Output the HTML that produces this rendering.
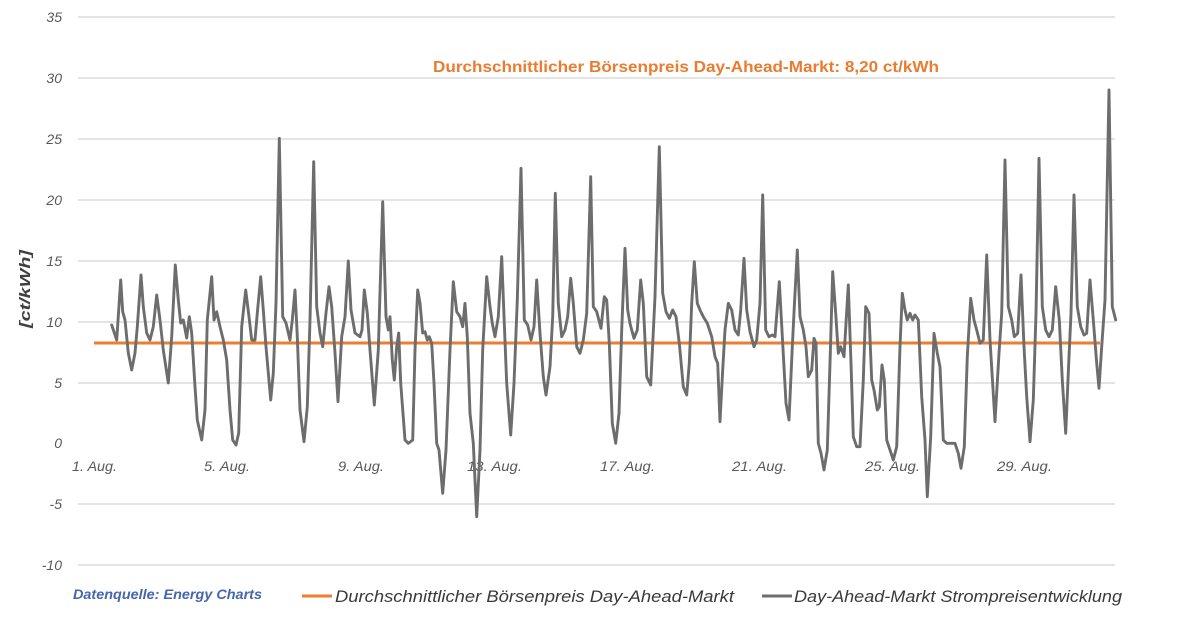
<!DOCTYPE html>
<html>
<head>
<meta charset="utf-8">
<style>
  html, body { margin: 0; padding: 0; background: #ffffff; }
  svg { display: block; }
  text { font-family: "Liberation Sans", "DejaVu Sans", sans-serif; }
</style>
</head>
<body>
<svg width="1200" height="619" viewBox="0 0 1200 619" xmlns="http://www.w3.org/2000/svg">
  <rect x="0" y="0" width="1200" height="619" fill="#ffffff"/>

  <!-- gridlines -->
  <g stroke="#e4e4e4" stroke-width="2">
    <line x1="78" y1="17" x2="1115" y2="17"/>
    <line x1="78" y1="78" x2="1115" y2="78"/>
    <line x1="78" y1="139" x2="1115" y2="139"/>
    <line x1="78" y1="200" x2="1115" y2="200"/>
    <line x1="78" y1="261" x2="1115" y2="261"/>
    <line x1="78" y1="322" x2="1115" y2="322"/>
    <line x1="78" y1="383" x2="1115" y2="383"/>
    <line x1="78" y1="504" x2="1115" y2="504"/>
    <line x1="78" y1="565" x2="1115" y2="565"/>
  </g>

  <!-- y tick labels -->
  <g font-size="14" font-style="italic" fill="#595959" text-anchor="end">
    <text x="62" y="22">35</text>
    <text x="62" y="83">30</text>
    <text x="62" y="144">25</text>
    <text x="62" y="205">20</text>
    <text x="62" y="266">15</text>
    <text x="62" y="327">10</text>
    <text x="62" y="388">5</text>
    <text x="62" y="448">0</text>
    <text x="62" y="509">-5</text>
    <text x="62" y="570">-10</text>
  </g>

  <!-- y axis title -->
  <text transform="translate(30,289) rotate(-90)" text-anchor="middle" font-size="15" font-style="italic" font-weight="bold" fill="#404040" textLength="78" lengthAdjust="spacingAndGlyphs">[ct/kWh]</text>

  <!-- x labels -->
  <g font-size="13.5" font-style="italic" fill="#595959">
    <text x="72" y="471" textLength="45" lengthAdjust="spacingAndGlyphs">1. Aug.</text>
    <text x="204" y="471" textLength="46" lengthAdjust="spacingAndGlyphs">5. Aug.</text>
    <text x="338" y="471" textLength="46" lengthAdjust="spacingAndGlyphs">9. Aug.</text>
    <text x="467" y="471" textLength="55" lengthAdjust="spacingAndGlyphs">13. Aug.</text>
    <text x="600" y="471" textLength="55" lengthAdjust="spacingAndGlyphs">17. Aug.</text>
    <text x="732" y="471" textLength="55" lengthAdjust="spacingAndGlyphs">21. Aug.</text>
    <text x="865" y="471" textLength="55" lengthAdjust="spacingAndGlyphs">25. Aug.</text>
    <text x="997" y="471" textLength="55" lengthAdjust="spacingAndGlyphs">29. Aug.</text>
  </g>

  <!-- average line -->
  <line x1="94" y1="343" x2="1100" y2="343" stroke="#ED7D31" stroke-width="3"/>

  <!-- price series -->
  <polyline fill="none" stroke="#6d6d6d" stroke-width="2.9" stroke-linejoin="round" stroke-linecap="round"
    points="111.7,325 116.7,340 120.7,280 122.7,311.7 125,320 128.3,353 131.7,370 135,353 137.3,326.7 141,275 143.3,306.7 146.7,333 150,340 153.3,326.7 156.7,295 160,320 163.3,350 168.3,383 171.7,336.7 175.3,265 178.3,300 180.7,323 183.3,320 186.7,338 189.3,316.7 191.7,333 195,386.7 197.3,420 201.7,440 205,410 207.3,320 211.7,276.7 214,320 216.7,311.7 220,326.7 223.3,340 226.7,360 230,410 232.7,440 236,445 238.7,433 241.7,326.7 245.7,290 249,316.7 251.7,340 255,340 257.3,313 260.7,276.7 263.3,310 266,346.7 270.7,400 273.3,373 276,303 279.3,138.3 282.7,316.7 286,323 290,340 292.3,320 295,290 297.3,336.7 300,410 304,441.7 307.3,406.7 310,320 313.7,161.7 316.7,306.7 320,333 322.7,346.7 326,313 329,286.7 331.7,306.7 335,353 338,401.7 341.7,336.7 345,316.7 348.3,261 351,310 355,333 360,336.7 362,330 364.3,290 367.3,313 370,350 374.3,405 378.3,350 382.7,201.7 386,316.7 388.3,330 390,316.7 392.3,360 394.3,380 396.7,346.7 398.7,333 400.7,383 405,440 408.3,443.3 412.7,440 415,350 417.7,290 420,303 422.7,333 425,331.7 427.3,340 429.3,336.7 431.7,343.3 434,383 436.7,443.3 439,450 442.7,493.3 446,450 450,350 453.3,281.7 456.7,311.7 460,316.7 462.7,326.7 465,303.3 467.3,336.7 470,413.3 473.3,443.3 476.7,516.7 480,450 482.7,350 486.7,276.7 490,306.7 492.3,323.3 495,336.7 498.3,316.7 501.7,256.7 504.3,323.3 506.7,383.3 510.7,435 514,383.3 517.3,300 521,168.3 524.3,320 527.7,325 531,340 534,326.7 536.7,280 540,333.3 543.3,376.7 546,395 550,366.7 552.7,316.7 555.3,193.3 558.3,303.3 561.7,336.7 565,330 567.7,316.7 570.7,278.3 573.3,303.3 576.7,346.7 580,353.3 583.3,340 586.7,313.3 590.7,176.7 593.3,306.7 596.7,311.7 601,328.3 604.3,296.7 606.7,300 609.3,343.3 612.3,423.3 615.7,443.3 619,413.3 621.7,330 625,248.3 627.7,310 630,323.3 631.7,330 634,338.3 637.3,330 640.7,280 643.3,303.3 646.7,376.7 650.7,385 655,296.7 659.3,146.7 662.7,293.3 666,311.7 669.3,318.3 672.7,310 676,316.7 679.3,343.3 683.3,386.7 686.7,395 689.3,363.3 691.7,303.3 694.3,261.7 697.3,303.3 700,310 703.3,316.7 707.3,323.3 711.7,336.7 715,356.7 717.7,363.3 720,421.7 722.7,370 725,330 728.3,303.3 731.7,310 735,330 738.3,335 740.7,310 744,258.3 746.7,310 750,331.7 754,346.7 756.7,340 760,303.3 762.7,195 765.7,330 769,336.7 772.3,335 775,336.7 779.3,281.7 782.7,343.3 786,403.3 789,420 792.3,346.7 794.3,306.7 797.3,250 800,316.7 803.3,330 806,346.7 808.3,376.7 811.7,370 814,338.3 816,343.3 818.3,443.3 821,453.3 824,470 827.3,450 830,363.3 832.7,271.7 835.7,313.3 838.3,353.3 840.7,346.7 844,356.7 848.3,285 851,363.3 853.3,436.7 856.7,446.7 860,446.7 863.3,380 865.7,306.7 869,313.3 871.7,380 874,390 877.3,410 879.3,406.7 882,365 884.3,380 886.7,440 890,450 893.3,460 896.7,446.7 900,346.7 902.3,293.3 905,310 907.3,320 910,313.3 912.7,320 915,315 918.3,320 921.7,396.7 925,440 927.3,496.7 930.7,436.7 934,333.3 937.3,353.3 940,366.7 943.3,440 946.7,443.3 951.7,443.3 955,443.3 958.3,453.3 961,468.3 964.3,446.7 967.3,356.7 970.7,298.3 974,320 976.7,330 980,343.3 983.3,340 986.7,255 990,340 995,421.7 999,353.3 1001.7,313.3 1005,160 1008.3,306.7 1011.7,320 1014.3,336.7 1017.7,333.3 1021,275 1024,346.7 1026.7,396.7 1030,441.7 1033.3,400 1036,313.3 1039,158.3 1042.3,306.7 1045.7,330 1049,336.7 1052.3,330 1055.7,286.7 1059.3,320 1062.3,380 1065.7,433.3 1069,356.7 1071,313.3 1074,195 1077.3,306.7 1080.7,326.7 1084,335 1086.7,333.3 1090,280 1093.3,320 1096.7,363.3 1099,388.3 1101.7,346.7 1105,300 1109,90 1112.3,306.7 1115.7,320"/>

  <!-- chart title -->
  <text x="433" y="72" font-size="16" font-weight="bold" fill="#E97C30" textLength="506" lengthAdjust="spacingAndGlyphs">Durchschnittlicher Börsenpreis Day-Ahead-Markt: 8,20 ct/kWh</text>

  <!-- data source -->
  <text x="73" y="599" font-size="14" font-weight="bold" font-style="italic" fill="#4565AD" textLength="189" lengthAdjust="spacingAndGlyphs">Datenquelle: Energy Charts</text>

  <!-- legend -->
  <line x1="302" y1="596" x2="332" y2="596" stroke="#ED7D31" stroke-width="3"/>
  <text x="335" y="602" font-size="17" font-style="italic" fill="#3a3a3a" textLength="399" lengthAdjust="spacingAndGlyphs">Durchschnittlicher Börsenpreis Day-Ahead-Markt</text>
  <line x1="762" y1="596" x2="792" y2="596" stroke="#6d6d6d" stroke-width="3"/>
  <text x="794" y="602" font-size="17" font-style="italic" fill="#3a3a3a" textLength="328" lengthAdjust="spacingAndGlyphs">Day-Ahead-Markt Strompreisentwicklung</text>
</svg>
</body>
</html>
